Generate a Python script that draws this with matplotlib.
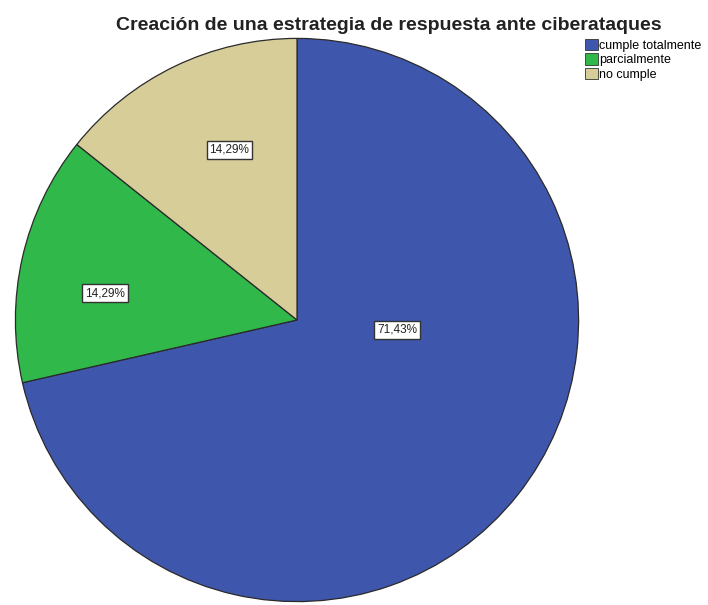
import matplotlib.pyplot as plt

categorias = ['cumple totalmente', 'parcialmente', 'no cumple']
porcentajes = [71.43, 14.29, 14.29]
colores = ['#3f56ad', '#30b84a', '#d6cd99']
# posiciones de las etiquetas dentro de cada sector (radio = 1)
pos_etiquetas = [(0.355, -0.035), (-0.682, 0.095), (-0.240, 0.605)]

plt.rcParams['font.family'] = ['Liberation Sans', 'DejaVu Sans']

fig = plt.figure(figsize=(7.08, 6.05), dpi=100)
ax = fig.add_axes([14 / 708, 2 / 605, 566 / 708, 566 / 605])

wedges, _ = ax.pie(porcentajes, colors=colores, startangle=90, counterclock=False,
                   radius=1, wedgeprops={'edgecolor': '#2a2a2a', 'linewidth': 0.9})
ax.set_xlim(-1.005, 1.005)
ax.set_ylim(-1.005, 1.005)
ax.set_aspect('auto')
ax.axis('off')

for valor, (x, y) in zip(porcentajes, pos_etiquetas):
    txt = f'{valor:.2f}%'.replace('.', ',')
    ax.text(x, y, txt, ha='center', va='center', fontsize=8.5, color='#222222',
            bbox=dict(boxstyle='square,pad=0.25', facecolor='white', edgecolor='#333333', linewidth=1.0))

fig.text(389 / 708, 1 - 30 / 605, 'Creación de una estrategia de respuesta ante ciberataques',
         ha='center', va='baseline', fontsize=14, fontweight='bold', color='#222222')

leg = fig.legend(wedges, categorias, loc='upper left', bbox_to_anchor=(585 / 708, 1 - 39 / 605),
                 frameon=False, fontsize=9, handlelength=1.0, handleheight=1.0,
                 handletextpad=0.15, labelspacing=0.12, borderpad=0, borderaxespad=0)
for h in leg.legend_handles:
    h.set_edgecolor('#333333')
    h.set_linewidth(0.6)

plt.savefig('out.png', dpi=100)
